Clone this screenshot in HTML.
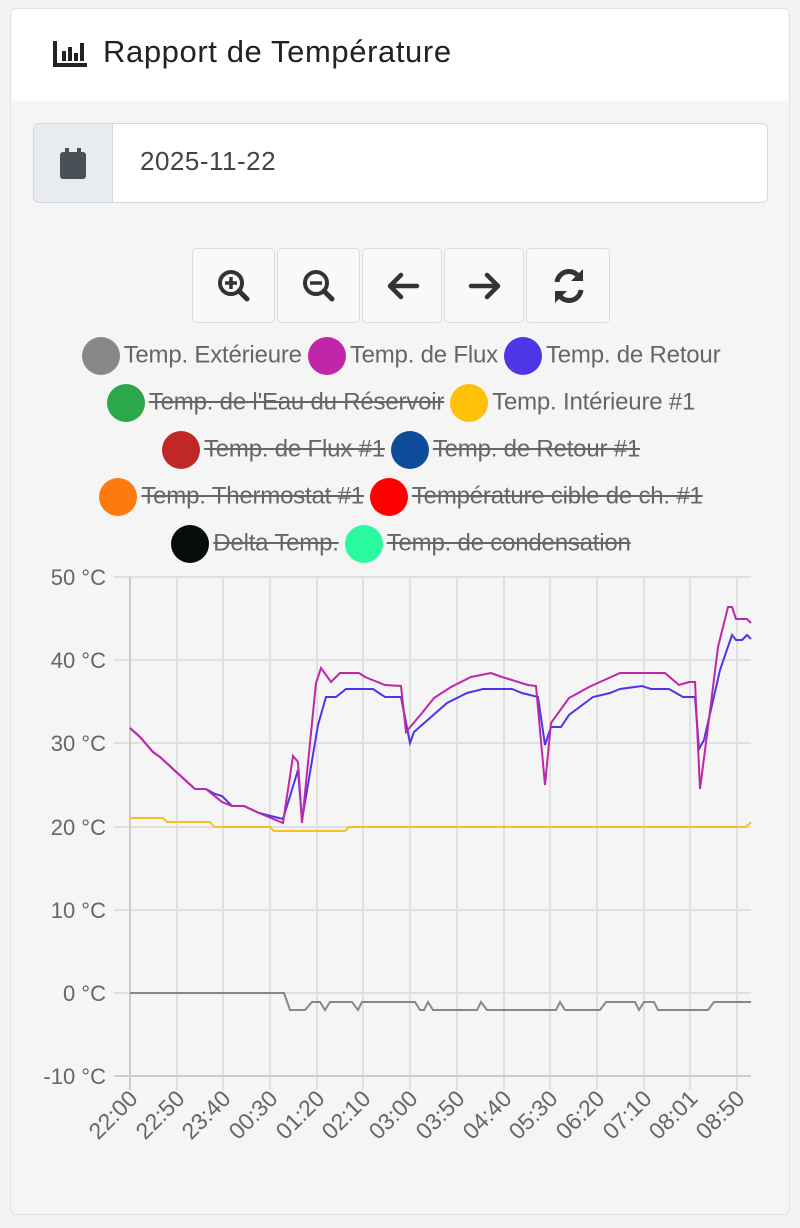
<!DOCTYPE html>
<html><head><meta charset="utf-8">
<style>
*{box-sizing:border-box;margin:0;padding:0}
body{width:800px;height:1228px;background:#f4f4f4;font-family:"Liberation Sans",sans-serif;position:relative;overflow:hidden}
.card{position:absolute;left:10px;top:8px;width:780px;height:1207px;background:#f5f5f5;border:1px solid #e2e2e2;border-radius:6px;overflow:hidden}
.hdr{position:absolute;left:0;top:0;width:780px;height:92px;background:#fff}
.hdr .t{position:absolute;left:92px;top:25px;font-size:31px;color:#222;letter-spacing:0.6px}
.inp{position:absolute;left:22px;top:114px;width:735px;height:80px;border:1.5px solid #d4d7db;border-radius:6px;background:#fff;overflow:hidden}
.inp .pre{position:absolute;left:0;top:0;width:79px;height:100%;background:#e9ecef;border-right:1.5px solid #d4d7db}
.inp .v{position:absolute;left:106px;top:22px;font-size:26px;color:#444;letter-spacing:0.5px}
.btn{position:absolute;top:239px;height:75px;background:#f8f9fa;border:1.5px solid #dcdcdc;border-radius:5px}
.leg{position:absolute;left:0;width:780px;text-align:center;font-size:24px;color:#666;white-space:nowrap;letter-spacing:-0.2px}
.leg span.i{display:inline-block;margin:0 3px;vertical-align:middle}
.leg b{display:inline-block;width:38px;height:38px;border-radius:50%;vertical-align:middle;margin-right:4px}
.leg s{text-decoration:line-through;text-decoration-thickness:2px;color:#666}
</style></head><body>
<div class="card">
<div class="hdr">
<svg style="position:absolute;left:42px;top:30px" width="36" height="30" viewBox="0 0 36 30"><path d="M2 2v24h32" stroke="#222" stroke-width="4" fill="none"/><rect x="9" y="12" width="4" height="10" fill="#222"/><rect x="15" y="8" width="4" height="14" fill="#222"/><rect x="21" y="14" width="4" height="8" fill="#222"/><rect x="27" y="4" width="4" height="18" fill="#222"/></svg>
<div class="t">Rapport de Température</div></div>
<div class="inp"><div class="pre"><svg style="position:absolute;left:25px;top:24px" width="28" height="32" viewBox="0 0 28 32"><rect x="6" y="0" width="4" height="6" fill="#495057"/><rect x="18" y="0" width="4" height="6" fill="#495057"/><rect x="1" y="4" width="26" height="27" rx="3" fill="#495057"/></svg></div><div class="v">2025-11-22</div></div>
<div class="btn" style="left:181px;width:83px"><svg width="83" height="75"><circle cx="38" cy="34" r="11" stroke="#333" stroke-width="4" fill="none"/><path d="M46 42l8 8" stroke="#333" stroke-width="5" stroke-linecap="round"/><path d="M38 28v12M32 34h12" stroke="#333" stroke-width="3.5"/></svg></div>
<div class="btn" style="left:266px;width:83px"><svg width="83" height="75"><circle cx="38" cy="34" r="11" stroke="#333" stroke-width="4" fill="none"/><path d="M46 42l8 8" stroke="#333" stroke-width="5" stroke-linecap="round"/><path d="M32 34h12" stroke="#333" stroke-width="3.5"/></svg></div>
<div class="btn" style="left:351px;width:80px"><svg width="80" height="75"><path d="M54 37H28M38 26L27 37l11 11" stroke="#333" stroke-width="4.5" fill="none" stroke-linecap="round" stroke-linejoin="round"/></svg></div>
<div class="btn" style="left:433px;width:80px"><svg width="80" height="75"><path d="M26 37h26M42 26l11 11-11 11" stroke="#333" stroke-width="4.5" fill="none" stroke-linecap="round" stroke-linejoin="round"/></svg></div>
<div class="btn" style="left:515px;width:84px"><svg width="84" height="75"><path d="M30 33a12 12 0 0 1 22-5M54 41a12 12 0 0 1-22 5" stroke="#333" stroke-width="5" fill="none"/><path d="M56 20v12H44zM28 54V42h12z" fill="#333"/></svg></div>
<div class="leg" style="top:328px"><span class="i"><b style="background:#888"></b>Temp. Extérieure</span><span class="i"><b style="background:#c026a8"></b>Temp. de Flux</span><span class="i"><b style="background:#4d36e8"></b>Temp. de Retour</span></div>
<div class="leg" style="top:375px"><span class="i"><b style="background:#2aa84a"></b><s>Temp. de l'Eau du Réservoir</s></span><span class="i"><b style="background:#ffc107"></b>Temp. Intérieure #1</span></div>
<div class="leg" style="top:422px"><span class="i"><b style="background:#c02828"></b><s>Temp. de Flux #1</s></span><span class="i"><b style="background:#0d4c98"></b><s>Temp. de Retour #1</s></span></div>
<div class="leg" style="top:469px"><span class="i"><b style="background:#fd7a10"></b><s>Temp. Thermostat #1</s></span><span class="i"><b style="background:#ff0000"></b><s>Température cible de ch. #1</s></span></div>
<div class="leg" style="top:516px"><span class="i"><b style="background:#060b0b"></b><s>Delta Temp.</s></span><span class="i"><b style="background:#2afa9e"></b><s>Temp. de condensation</s></span></div>
</div>
<svg style="position:absolute;left:0;top:0" width="800" height="1228" font-family="Liberation Sans, sans-serif">
<g stroke="#e0e0e0" stroke-width="2">
<line x1="114" y1="577" x2="751" y2="577"/><line x1="114" y1="660" x2="751" y2="660"/><line x1="114" y1="743" x2="751" y2="743"/><line x1="114" y1="827" x2="751" y2="827"/><line x1="114" y1="910" x2="751" y2="910"/><line x1="114" y1="993" x2="751" y2="993"/><line x1="114" y1="1076" x2="751" y2="1076"/>
<line x1="177" y1="577" x2="177" y2="1090"/><line x1="223" y1="577" x2="223" y2="1090"/><line x1="270" y1="577" x2="270" y2="1090"/><line x1="317" y1="577" x2="317" y2="1090"/><line x1="363" y1="577" x2="363" y2="1090"/><line x1="410" y1="577" x2="410" y2="1090"/><line x1="457" y1="577" x2="457" y2="1090"/><line x1="504" y1="577" x2="504" y2="1090"/><line x1="550" y1="577" x2="550" y2="1090"/><line x1="597" y1="577" x2="597" y2="1090"/><line x1="644" y1="577" x2="644" y2="1090"/><line x1="690" y1="577" x2="690" y2="1090"/><line x1="737" y1="577" x2="737" y2="1090"/>
</g>
<line x1="130" y1="577" x2="130" y2="1090" stroke="#ccc" stroke-width="2"/>
<line x1="114" y1="1076" x2="751" y2="1076" stroke="#ccc" stroke-width="2"/>
<g font-size="22" fill="#666" text-anchor="end">
<text x="106" y="585">50 °C</text><text x="106" y="668">40 °C</text><text x="106" y="751">30 °C</text><text x="106" y="835">20 °C</text><text x="106" y="918">10 °C</text><text x="106" y="1001">0 °C</text><text x="106" y="1084">-10 °C</text>
</g>
<g font-size="23" fill="#666" text-anchor="end">
<text transform="translate(139,1100) rotate(-45)">22:00</text><text transform="translate(186,1100) rotate(-45)">22:50</text><text transform="translate(232,1100) rotate(-45)">23:40</text><text transform="translate(279,1100) rotate(-45)">00:30</text><text transform="translate(326,1100) rotate(-45)">01:20</text><text transform="translate(372,1100) rotate(-45)">02:10</text><text transform="translate(419,1100) rotate(-45)">03:00</text><text transform="translate(466,1100) rotate(-45)">03:50</text><text transform="translate(513,1100) rotate(-45)">04:40</text><text transform="translate(559,1100) rotate(-45)">05:30</text><text transform="translate(606,1100) rotate(-45)">06:20</text><text transform="translate(653,1100) rotate(-45)">07:10</text><text transform="translate(699,1100) rotate(-45)">08:01</text><text transform="translate(746,1100) rotate(-45)">08:50</text>
</g>
<polyline fill="none" stroke="#888" stroke-width="2" points="130,993 284,993 290,1010 305,1010 312,1002 320,1002 325,1010 330,1002 352,1002 358,1010 362,1002 415,1002 420,1010 424,1010 428,1002 433,1010 477,1010 481,1002 487,1010 556,1010 560,1002 565,1010 600,1010 606,1002 635,1002 639,1010 644,1002 654,1002 658,1010 708,1010 714,1002 751,1002"/>
<polyline fill="none" stroke="#f5c02a" stroke-width="2" points="130,818 163,818 167,822 210,822 214,827 270,827 274,831 345,831 349,827 746,827 751,822"/>
<polyline fill="none" stroke="#4d36e8" stroke-width="2" points="130,728 140,737 153,752 160,757 173,769 195,789 206,789 215,794 222,796 232,806 244,806 259,813 283,819 298,770 302,820 318,725 326,697 336,697 346,689 373,689 385,697 401,697 410,743 414,732 447,703 467,693 483,689 512,689 522,693 538,697 545,745 551,727 561,727 569,715 593,697 610,693 620,689 642,686 651,689 669,689 683,697 695,697 699,749 704,740 720,670 732,635 736,640 742,640 747,635 751,639"/>
<polyline fill="none" stroke="#c026a8" stroke-width="2" points="130,728 140,737 153,752 160,757 173,769 195,789 206,789 222,802 232,806 244,806 259,813 283,823 293,756 298,762 302,823 316,683 321,668 331,682 340,673 359,673 365,677 385,685 401,686 406,732 422,713 434,698 451,687 471,677 491,673 502,677 528,685 536,686 545,785 551,723 569,698 589,687 620,673 665,673 679,685 689,682 695,682 700,789 708,727 718,647 728,607 732,607 736,619 747,619 751,623"/>
</svg>
</body></html>
